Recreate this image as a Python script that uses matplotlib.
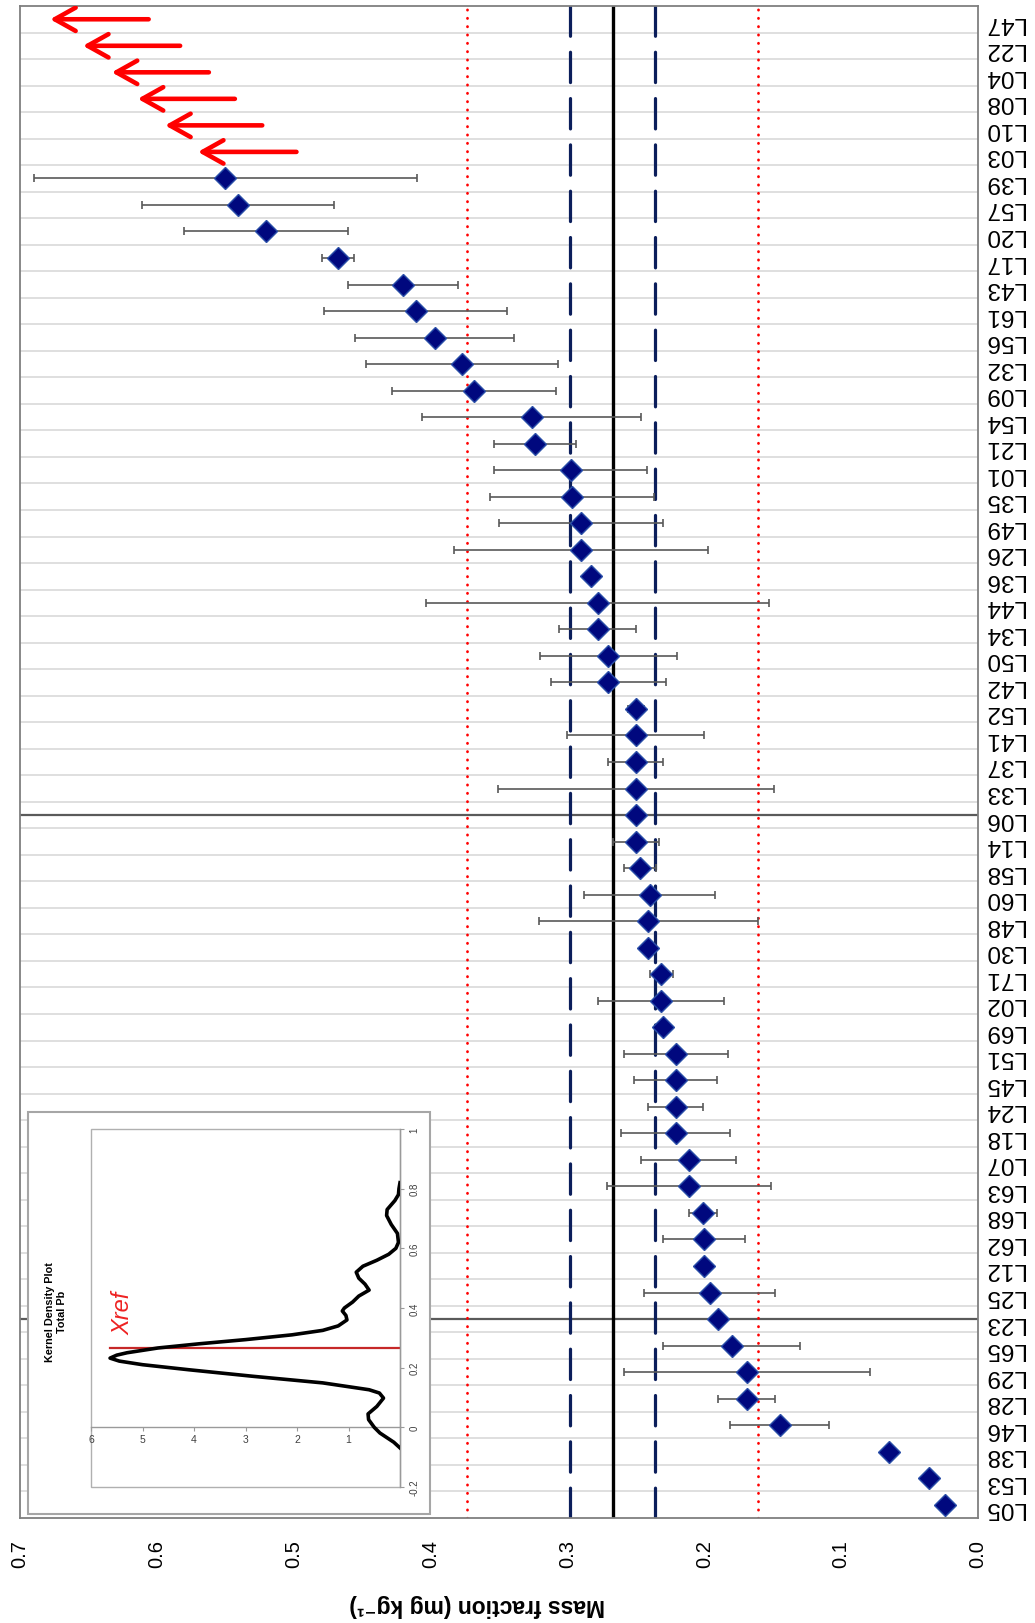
import matplotlib
matplotlib.use("Agg")
import matplotlib.pyplot as plt
from matplotlib.patches import Rectangle, FancyArrowPatch

plt.rcParams["font.family"] = ["Liberation Sans", "DejaVu Sans"]

# labs, bottom to top
labs = ["L05", "L53", "L38", "L46", "L28", "L29", "L65", "L23", "L25", "L12",
        "L62", "L68", "L63", "L07", "L18", "L24", "L45", "L51", "L69", "L02",
        "L71", "L30", "L48", "L60", "L58", "L14", "L06", "L33", "L37", "L41",
        "L52", "L42", "L50", "L34", "L44", "L36", "L26", "L49", "L35", "L01",
        "L21", "L54", "L09", "L32", "L56", "L61", "L43", "L17", "L20", "L57",
        "L39"]
pb = [0.024, 0.036, 0.065, 0.145, 0.169, 0.169, 0.180, 0.190, 0.196, 0.200,
      0.200, 0.201, 0.211, 0.2115, 0.221, 0.221, 0.221, 0.221, 0.230, 0.2315,
      0.2315, 0.241, 0.241, 0.240, 0.247, 0.250, 0.250, 0.250, 0.250, 0.250,
      0.250, 0.270, 0.270, 0.278, 0.278, 0.2826, 0.290, 0.290, 0.2965, 0.2977,
      0.324, 0.326, 0.368, 0.377, 0.397, 0.411, 0.420, 0.4676, 0.520, 0.5406,
      0.550]
pb_unc = [0, 0, 0, 0.036, 0.021, 0.090, 0.050, 0, 0.048, 0,
          0.030, 0.010, 0.060, 0.035, 0.040, 0.020, 0.030, 0.038, 0, 0.046,
          0.0085, 0, 0.080, 0.048, 0.012, 0.017, 0, 0.101, 0.020, 0.050,
          0.006, 0.042, 0.050, 0.028, 0.125, 0, 0.093, 0.060, 0.060, 0.056,
          0.030, 0.080, 0.060, 0.070, 0.058, 0.067, 0.040, 0.012, 0.060, 0.070,
          0.140]

# off-scale labs, shown as arrows
off_labs = ["L03", "L10", "L08", "L04", "L22", "L47"]
off_tail = [0.498, 0.523, 0.543, 0.562, 0.583, 0.606]
off_head = [0.570, 0.594, 0.614, 0.633, 0.654, 0.678]

x_ref = 0.267
u_ref = 0.031      # dashed band
tol = 0.1065       # dotted band
marked_labs = ["L06", "L23"]

# kernel density of the results (inset)
kde_x = [-0.069, -0.05, -0.019, 0.0, 0.026, 0.045, 0.07, 0.098, 0.115, 0.126,
         0.149, 0.171, 0.193, 0.21, 0.222, 0.232, 0.242, 0.25, 0.266, 0.28,
         0.294, 0.31, 0.325, 0.34, 0.36, 0.375, 0.39, 0.40, 0.42, 0.44,
         0.46, 0.48, 0.50, 0.52, 0.54, 0.56, 0.58, 0.60, 0.62, 0.65,
         0.68, 0.71, 0.73, 0.76, 0.78, 0.80, 0.82]
kde_y = [0.0, 0.12, 0.39, 0.5, 0.61, 0.62, 0.45, 0.32, 0.40, 0.6,
         1.5, 2.85, 4.1, 5.0, 5.45, 5.63, 5.5, 5.3, 4.7, 3.9,
         3.0, 2.1, 1.5, 1.2, 1.03, 1.05, 1.12, 1.08, 0.92, 0.8,
         0.6, 0.68, 0.8, 0.85, 0.72, 0.45, 0.22, 0.08, 0.03, 0.05,
         0.17, 0.26, 0.25, 0.1, 0.03, 0.02, 0.0]

W, H = 1035, 1624
fig = plt.figure(figsize=(W / 100, H / 100), dpi=100)


def px_box(x0, y0, x1, y1):
    return [x0 / W, 1 - y1 / H, (x1 - x0) / W, (y1 - y0) / H]


ax = fig.add_axes(px_box(20, 7, 978, 1519))
all_labs = labs + off_labs
n = len(all_labs)
pos = {lab: i for i, lab in enumerate(all_labs)}
ypos = list(range(len(labs)))

ax.set_xlim(0.7, 0.0)
ax.set_ylim(-0.5, n - 0.5)

# category separators
ax.set_yticks([i + 0.5 for i in range(n - 1)], minor=True)
ax.grid(True, which="minor", axis="y", color="#dcdcdc", lw=1.3, zorder=0)
ax.tick_params(axis="y", which="minor", length=0)

for lab in marked_labs:
    ax.axhline(pos[lab], color="#5a5a5a", lw=1.6, zorder=1)

ax.axvline(x_ref, color="black", lw=2.4, zorder=2)
for v in (x_ref - u_ref, x_ref + u_ref):
    ax.axvline(v, color="#0b1e5b", lw=2.3, linestyle=(0, (9.5, 5.0)),
               dash_capstyle="round", zorder=2)
for v in (x_ref - tol, x_ref + tol):
    ax.axvline(v, color="#ff0000", lw=2.0, linestyle=(0, (0.1, 2.9)),
               dash_capstyle="round", zorder=2)

ax.errorbar(pb, ypos, xerr=pb_unc, fmt="none", ecolor="#595959",
            elinewidth=1.2, capsize=3, capthick=1.2, zorder=3)
ax.plot(pb, ypos, linestyle="none", marker="D", markersize=11,
        markerfacecolor="#00087e", markeredgecolor="#2a4fa8",
        markeredgewidth=1.0, zorder=4)

for lab, t, h in zip(off_labs, off_tail, off_head):
    y = pos[lab]
    ax.add_patch(FancyArrowPatch((t, y), (h, y),
                                 arrowstyle="->,head_length=0.75,head_width=0.42",
                                 mutation_scale=20, color="#ff0000", lw=3.3,
                                 shrinkA=0, shrinkB=0, zorder=4))

ax.set_xticks([0.0, 0.1, 0.2, 0.3, 0.4, 0.5, 0.6, 0.7])
ax.set_xticklabels([f"{v:.1f}" for v in ax.get_xticks()], rotation=90)
ax.tick_params(axis="x", length=0, pad=15, labelsize=14.5)

ax.set_yticks(range(n))
ax.set_yticklabels(all_labs, rotation=180)
ax.yaxis.tick_right()
ax.tick_params(axis="y", which="major", length=0, pad=4, labelsize=17.5)

for s in ax.spines.values():
    s.set_color("#7f7f7f")
    s.set_linewidth(1.3)

fig.text(477 / W, 1 - 1606 / H, "Mass fraction (mg kg⁻¹)", rotation=180,
         ha="center", va="center", fontsize=16.5, fontweight="bold")

# inset: kernel density plot
frame = Rectangle((28 / W, 1 - 1515 / H), 402 / W, 402 / H,
                  transform=fig.transFigure, facecolor="white",
                  edgecolor="#a6a6a6", lw=1.5, zorder=5)
fig.add_artist(frame)

axi = fig.add_axes(px_box(91, 1130, 400, 1488), zorder=6)
axi.plot(kde_y, kde_x, color="black", lw=2.6, zorder=3)
axi.plot([0, max(kde_y)], [x_ref, x_ref], color="#c62828", lw=1.6, zorder=2)
axi.set_xlim(6, 0)
axi.set_ylim(-0.2, 1.0)
axi.set_xticks([6, 5, 4, 3, 2, 1])
axi.set_xticklabels(["6", "5", "4", "3", "2", "1"], rotation=90)
axi.set_yticks([-0.2, 0, 0.2, 0.4, 0.6, 0.8, 1.0])
axi.set_yticklabels(["-0.2", "0", "0.2", "0.4", "0.6", "0.8", "1"], rotation=90,
                    va="center")
axi.yaxis.tick_right()
axi.spines["bottom"].set_position(("data", 0))
axi.spines["left"].set_visible(False)
axi.spines["top"].set_visible(False)
for s in ("bottom", "right"):
    axi.spines[s].set_color("#9a9a9a")
    axi.spines[s].set_linewidth(1.0)
axi.add_patch(Rectangle((0, 0), 1, 1, transform=axi.transAxes, fill=False,
                        edgecolor="#b0b0b0", lw=1.0, clip_on=False))
axi.tick_params(axis="x", length=3, width=0.8, color="#9a9a9a", pad=2,
                labelsize=7.5, labelcolor="#404040")
axi.tick_params(axis="y", length=3, width=0.8, color="#9a9a9a", pad=4,
                labelsize=7, labelcolor="#404040")

fig.text(56 / W, 1 - 1312 / H, "Kernel Density Plot\nTotal Pb", rotation=90,
         ha="center", va="center", fontsize=7.8, fontweight="bold",
         linespacing=1.25, zorder=7)
fig.text(123 / W, 1 - 1313 / H, "Xref", rotation=90, ha="center",
         va="center", fontsize=17, style="italic", color="#ee2222", zorder=7)

fig.savefig("out.png", dpi=100)
